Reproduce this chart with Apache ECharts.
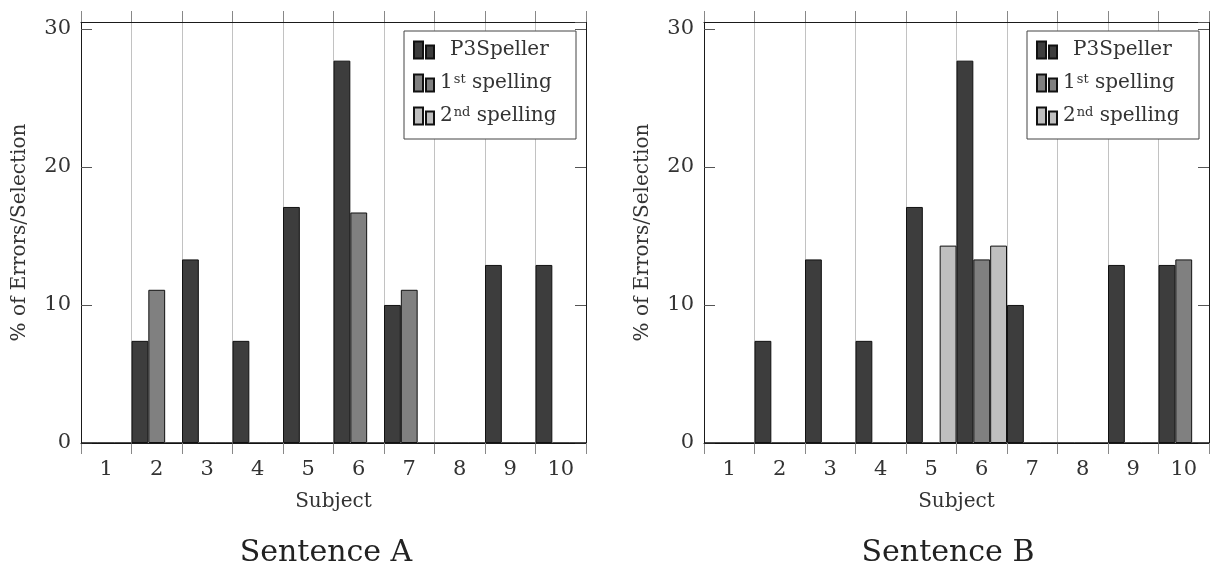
<!DOCTYPE html>
<html>
<head>
<meta charset="utf-8">
<script src="https://cdn.jsdelivr.net/npm/echarts@6/dist/echarts.min.js"></script>
<style>
html, body { margin: 0; padding: 0; background: #fff; }
#chart { width: 1214px; height: 573px; }
</style>
</head>
<body>
<div id="chart"></div>
<script>
// data
var subjects = ['1', '2', '3', '4', '5', '6', '7', '8', '9', '10'];
var seriesNames = ['P3Speller', '1st spelling', '2nd spelling'];

var a_p3speller = [0, 7.4, 13.3, 7.4, 17.1, 27.7, 10.0, 0, 12.9, 12.9];
var a_first = [0, 11.1, 0, 0, 0, 16.7, 11.1, 0, 0, 0];
var a_second = [0, 0, 0, 0, 0, 0, 0, 0, 0, 0];

var b_p3speller = [0, 7.4, 13.3, 7.4, 17.1, 27.7, 10.0, 0, 12.9, 12.9];
var b_first = [0, 0, 0, 0, 0, 13.3, 0, 0, 0, 13.3];
var b_second = [0, 0, 0, 0, 14.3, 14.3, 0, 0, 0, 0];

var yTicks = [0, 10, 20, 30];

var font = 'DejaVu Serif';
var colors = ['#3d3d3d', '#808080', '#bfbfbf'];

var echarts_chart;
var option_chart;

function make_x_axis(grid, top){
    var axis = {
        type: 'category',
        gridIndex: grid,
        data: subjects,
        boundaryGap: true,
        position: top ? 'top' : 'bottom',
        axisLine: { show: true, onZero: false, lineStyle: { color: '#1a1a1a', width: 1 } },
        axisTick: { show: true, inside: false, length: 11, lineStyle: { color: '#888' } },
        axisLabel: { show: !top, margin: 16, fontFamily: font, fontSize: 21, color: '#333' },
        splitLine: { show: !top, lineStyle: { color: '#c2c2c2', width: 1 } }
    };
    if(!top){
        axis.name = 'Subject';
        axis.nameLocation = 'middle';
        axis.nameGap = 49;
        axis.nameTextStyle = { fontFamily: font, fontSize: 20, color: '#333' };
    }
    return axis;
}

function make_y_axis(grid, right){
    var axis = {
        type: 'value',
        gridIndex: grid,
        position: right ? 'right' : 'left',
        min: 0,
        max: 30.5,
        interval: 10,
        axisLine: { show: true, onZero: false, lineStyle: { color: '#1a1a1a', width: 1 } },
        axisTick: { show: true, inside: true, length: 11, lineStyle: { color: '#555' } },
        splitLine: { show: false },
        axisLabel: {
            show: !right,
            margin: 10,
            showMaxLabel: false,
            fontFamily: font, fontSize: 21, color: '#333',
            formatter: function(v){ return yTicks.indexOf(v) >= 0 ? String(v) : ''; }
        }
    };
    if(!right){
        axis.name = '% of Errors/Selection';
        axis.nameLocation = 'middle';
        axis.nameRotate = 90;
        axis.nameGap = 51;
        axis.nameTextStyle = { fontFamily: font, fontSize: 20, color: '#333' };
    }
    return axis;
}

function make_bar(name, data, axis, idx){
    return {
        name: name,
        type: 'bar',
        xAxisIndex: axis,
        yAxisIndex: axis,
        data: data,
        barGap: '0%',
        barCategoryGap: '0%',
        itemStyle: { color: colors[idx], borderColor: '#111', borderWidth: 1 },
        emphasis: { disabled: true },
        z: 2
    };
}

function legend_label(name){
    if(name == 'P3Speller')
        return '{p|P3Speller}';
    if(name == '1st spelling')
        return '{t|1}{s|st}{t| spelling}';
    return '{t|2}{s|nd}{t| spelling}';
}

function make_legend(left){
    return {
        orient: 'vertical',
        left: left,
        top: 40,
        selectedMode: false,
        data: seriesNames,
        icon: 'path://M0,0h9v17h-9z M12,4h8v13h-8z',
        itemWidth: 22,
        itemHeight: 17,
        itemGap: 13,
        padding: 0,
        formatter: legend_label,
        textStyle: {
            fontFamily: font, fontSize: 20, color: '#333', lineHeight: 20,
            rich: {
                p: { fontFamily: font, fontSize: 20, color: '#333', padding: [0, 0, 0, 10] },
                t: { fontFamily: font, fontSize: 20, color: '#333', padding: [0, 0, 0, 0] },
                s: { fontFamily: font, fontSize: 13, color: '#333', verticalAlign: 'top', padding: [0, 0, 0, 1] }
            }
        },
        z: 5
    };
}

option_chart = {
    animation: false,
    backgroundColor: '#fff',
    grid: [
        { left: 81, top: 22, width: 505, height: 421 },
        { left: 704, top: 22, width: 505, height: 421 }
    ],
    xAxis: [ make_x_axis(0, false), make_x_axis(0, true), make_x_axis(1, false), make_x_axis(1, true) ],
    yAxis: [ make_y_axis(0, false), make_y_axis(0, true), make_y_axis(1, false), make_y_axis(1, true) ],
    legend: [ make_legend(413), make_legend(1036) ],
    graphic: [
        // legend frames
        { type: 'rect', shape: { x: 404, y: 31, width: 172, height: 108 }, z: 4,
          style: { fill: '#fff', stroke: '#444', lineWidth: 1 } },
        { type: 'rect', shape: { x: 1027, y: 31, width: 172, height: 108 }, z: 4,
          style: { fill: '#fff', stroke: '#444', lineWidth: 1 } },
        // captions
        { type: 'text', x: 326, y: 553, z: 5,
          style: { text: 'Sentence A', font: '30px "DejaVu Serif"', fill: '#222', textAlign: 'center', textVerticalAlign: 'middle' } },
        { type: 'text', x: 948, y: 553, z: 5,
          style: { text: 'Sentence B', font: '30px "DejaVu Serif"', fill: '#222', textAlign: 'center', textVerticalAlign: 'middle' } }
    ],
    series: [
        make_bar(seriesNames[0], a_p3speller, 0, 0),
        make_bar(seriesNames[1], a_first, 0, 1),
        make_bar(seriesNames[2], a_second, 0, 2),
        make_bar(seriesNames[0], b_p3speller, 2, 0),
        make_bar(seriesNames[1], b_first, 2, 1),
        make_bar(seriesNames[2], b_second, 2, 2)
    ]
};

echarts_chart = echarts.init(document.getElementById('chart'));
echarts_chart.setOption(option_chart);
</script>
</body>
</html>
